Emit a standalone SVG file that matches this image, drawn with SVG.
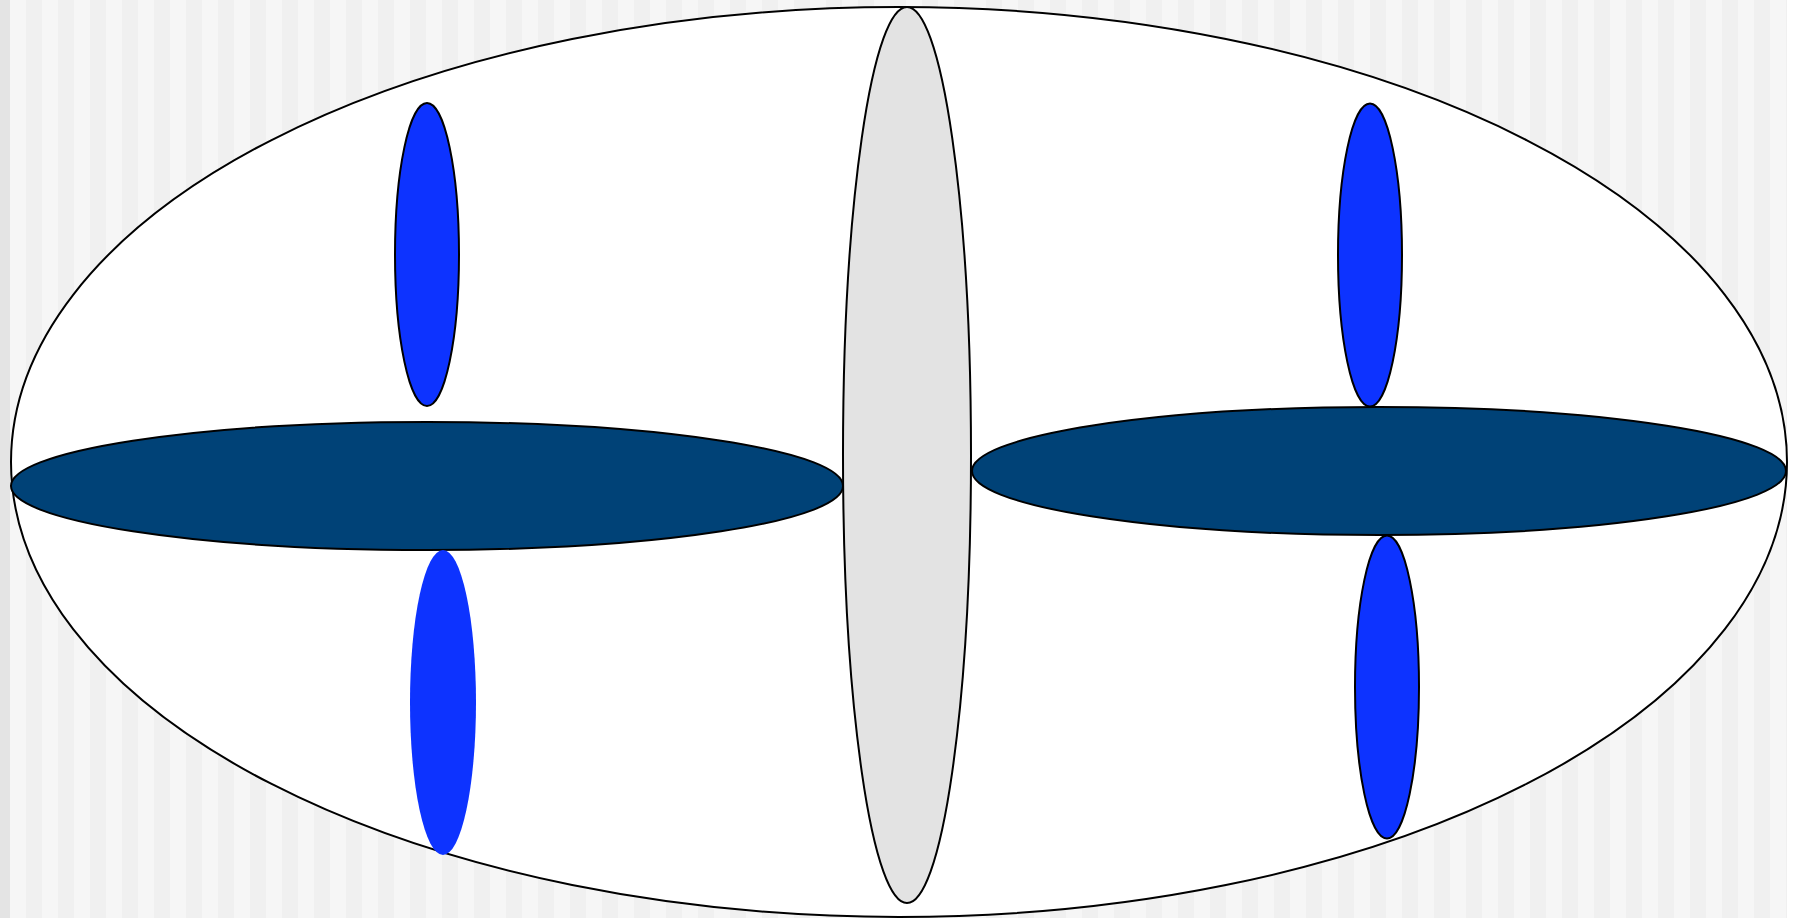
<svg xmlns="http://www.w3.org/2000/svg" width="1799" height="918" viewBox="0 0 1799 918">
<defs>
<pattern id="stripes" x="10" y="0" width="32" height="918" patternUnits="userSpaceOnUse">
<rect x="0" y="0" width="16" height="918" fill="#f6f6f6"/>
<rect x="16" y="0" width="16" height="918" fill="#f0f0f0"/>
</pattern>
<style>
.o{stroke:#000;stroke-width:2}
.dark{fill:#004277}
.blue{fill:#0d33ff}
</style>
</defs>
<rect x="0" y="0" width="1799" height="918" fill="#ffffff"/>
<rect x="10" y="0" width="1777" height="918" fill="url(#stripes)"/>
<rect x="0" y="0" width="10" height="918" fill="#e4e4e4"/>
<g id="outer"><ellipse class="o" cx="899" cy="462" rx="888" ry="455" fill="#ffffff"/></g>
<g id="center"><ellipse class="o" cx="907" cy="455" rx="64" ry="448" fill="#e3e3e3"/></g>
<g id="left-bar"><ellipse class="o dark" cx="427" cy="486" rx="416" ry="64"/></g>
<g id="right-bar"><ellipse class="o dark" cx="1379" cy="471" rx="407" ry="64"/></g>
<g id="blue-tl"><ellipse class="o blue" cx="427" cy="254.5" rx="32" ry="151.5"/></g>
<g id="blue-bl"><ellipse class="blue" cx="443" cy="702.5" rx="33" ry="152.5"/></g>
<g id="blue-tr"><ellipse class="o blue" cx="1370" cy="255" rx="32" ry="151.5"/></g>
<g id="blue-br"><ellipse class="o blue" cx="1387" cy="687" rx="32" ry="151.5"/></g>
<g id="connectors"></g>
</svg>
